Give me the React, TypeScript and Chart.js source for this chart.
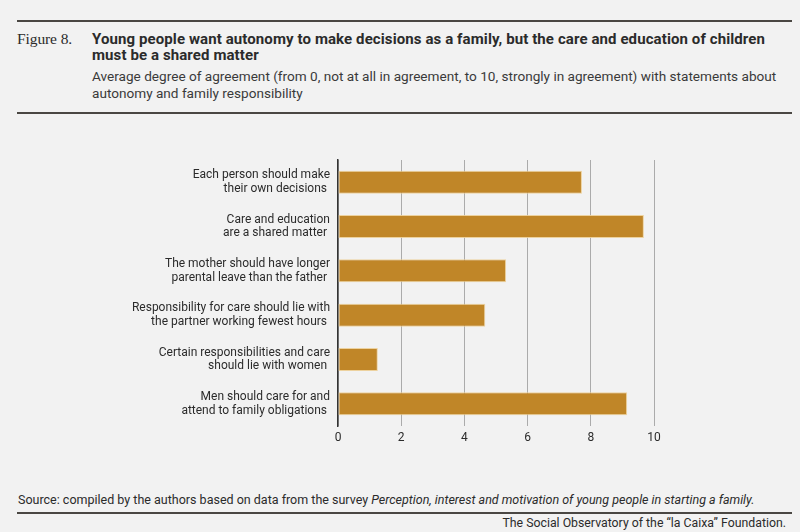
import { useEffect, useRef } from 'react'
import { Chart, registerables } from 'chart.js'

Chart.register(...registerables)

const categories: string[][] = [
  ['Each person should make', 'their own decisions '],
  ['Care and education', 'are a shared matter '],
  ['The mother should have longer', 'parental leave than the father '],
  ['Responsibility for care should lie with', 'the partner working fewest hours '],
  ['Certain responsibilities and care', 'should lie with women '],
  ['Men should care for and', 'attend to family obligations '],
]

const agreement = [7.72, 9.68, 5.32, 4.66, 1.26, 9.15]

const xTicks = [0, 2, 4, 6, 8, 10]

const BAR = '#c08628'
const INK = '#2b2b2b'
const RULE = '#4a4743'

function AgreementChart() {
  const canvasRef = useRef<HTMLCanvasElement>(null)

  useEffect(() => {
    if (!canvasRef.current) return
    const chart = new Chart(canvasRef.current, {
      type: 'bar',
      data: {
        labels: categories,
        datasets: [
          {
            data: agreement,
            backgroundColor: BAR,
            borderColor: 'rgba(236,206,150,0.9)',
            borderWidth: 1,
            borderSkipped: false,
            barPercentage: 0.52,
            categoryPercentage: 1,
          },
        ],
      },
      options: {
        indexAxis: 'y',
        responsive: true,
        maintainAspectRatio: false,
        animation: false,
        layout: { padding: { top: 10, right: 146, left: 0, bottom: 0 } },
        plugins: {
          legend: { display: false },
          tooltip: { enabled: false },
        },
        scales: {
          x: {
            min: 0,
            max: 10,
            afterBuildTicks: (scale) => {
              scale.ticks = xTicks.map(v => ({ value: v }))
            },
            afterFit: (scale) => { scale.height = 24 },
            grid: { color: '#ababab', lineWidth: 1, drawTicks: false },
            border: { display: false },
            ticks: {
              padding: 5,
              color: INK,
              font: { family: 'Roboto', size: 12 },
            },
          },
          y: {
            afterFit: (scale: any) => {
              scale.width = 338
              scale.paddingTop = 0
              scale.paddingBottom = 0
            },
            grid: { display: false, drawTicks: false },
            border: { display: true, color: '#333', width: 1.5 },
            ticks: {
              padding: 8,
              color: INK,
              font: { family: 'Roboto', size: 12, lineHeight: 1.12 },
            },
          },
        },
      },
    })
    return () => { chart.destroy() }
  }, [])

  return (
    <div style={{ position: 'absolute', left: 0, top: 150, width: 800, height: 300 }}>
      <canvas ref={canvasRef} />
    </div>
  )
}

export default function App() {
  const rule = (top: number) => (
    <div style={{ position: 'absolute', left: 17, width: 775, top, height: 2, background: RULE }} />
  )
  return (
    <div
      style={{
        position: 'fixed',
        left: 0,
        top: 0,
        width: 800,
        height: 532,
        background: '#f2f2f2',
        fontFamily: 'Roboto, sans-serif',
        color: INK,
        overflow: 'hidden',
      }}
    >
      {rule(20)}
      <div style={{ position: 'absolute', left: 17, top: 30, fontFamily: '"Liberation Serif", serif', fontSize: 15.5, lineHeight: '18px', letterSpacing: -0.1 }}>
        Figure 8.
      </div>
      <div style={{ position: 'absolute', left: 92, top: 31, width: 690, fontSize: 15, fontWeight: 700, lineHeight: '16px', letterSpacing: 0.1 }}>
        Young people want autonomy to make decisions as a family, but the care and education of children must be a shared matter
      </div>
      <div style={{ position: 'absolute', left: 92, top: 68, width: 700, fontSize: 13.6, lineHeight: '17px', color: '#3a3a3a' }}>
        Average degree of agreement (from 0, not at all in agreement, to 10, strongly in agreement) with statements about autonomy and family responsibility
      </div>
      {rule(112)}

      <AgreementChart />

      <div style={{ position: 'absolute', left: 18, top: 492, fontSize: 12.5, lineHeight: '16px' }}>
        Source: compiled by the authors based on data from the survey{' '}
        <i>Perception, interest and motivation of young people in starting a family.</i>
      </div>
      {rule(512)}
      <div style={{ position: 'absolute', right: 14, top: 516, fontSize: 12.3, lineHeight: '14px' }}>
        The Social Observatory of the “la Caixa” Foundation.
      </div>
    </div>
  )
}
